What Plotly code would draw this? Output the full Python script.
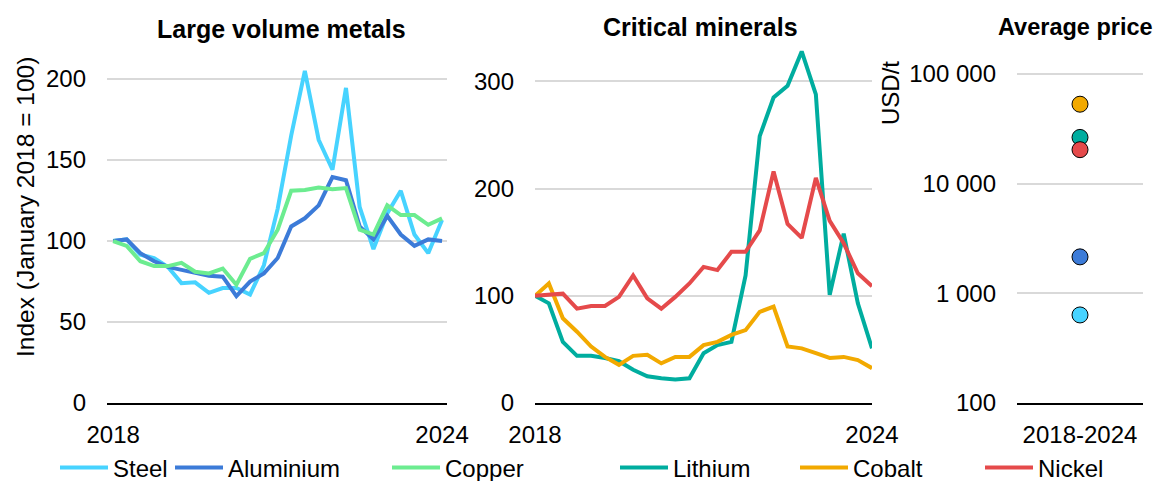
"""
Price indices of large volume metals and critical minerals, 2018-2024.
"""

import pandas as pd
import plotly.graph_objects as go
from plotly.subplots import make_subplots

quarters = pd.date_range("2018-01-01", "2024-01-01", freq="QS")

steel = [100, 101, 91.5, 89.5, 84, 74, 74.5, 68, 71, 71, 67, 85, 120, 165, 205,
         162.5, 144, 194.5, 121, 95, 117, 131, 104, 92.5, 113]
aluminium = [100, 101, 92.5, 87.5, 84, 82, 80, 78.5, 78, 66, 75, 80, 89.5, 109, 114,
             122, 139.5, 137.5, 109, 101, 115.5, 104, 97, 101, 100]
copper = [100, 97, 87.5, 84.5, 84.5, 86.5, 81, 80, 83, 73, 89, 92.5, 107, 131, 131.5,
          133, 132, 132.7, 107, 104, 122, 116, 116, 110, 114]

lithium = [100, 93, 57, 44, 44, 42, 39, 31, 25, 23, 22, 23, 46.5, 54, 57,
           119, 249, 285, 296, 328, 288, 101, 158, 93, 51]
cobalt = [100, 111.5, 79, 66.5, 52.7, 43, 35.6, 44, 45, 37, 43, 43, 54, 57, 63.5,
          68, 85, 90, 52.7, 51, 46.5, 42, 43, 40, 32.5]
nickel = [100, 100.7, 102, 88, 90.5, 90.5, 99, 119, 97.6, 88, 99, 111.5, 127, 124, 141,
          141, 161, 216, 167, 154, 210, 170, 149, 121, 109]

avg_names = ["Cobalt", "Lithium", "Nickel", "Aluminium", "Steel"]
avg_prices = [53000, 26400, 20400, 2150, 635]
avg_period = "2018-2024"

colors = {
    "Steel": "#47d3ff",
    "Aluminium": "#3c7bd8",
    "Copper": "#6cec90",
    "Lithium": "#00ad9f",
    "Cobalt": "#f2a900",
    "Nickel": "#e54a4b",
}

FONT = "Liberation Sans, Arial, sans-serif"
FS = 24
# page body has an 8px margin; keep the figure small enough to avoid scrollbars
OFF = 8
W, H = 1161 - 2 * OFF, 489 - 2 * OFF
TOP = 45 - OFF
BOTTOM = H - (403 - OFF)
PH = H - TOP - BOTTOM


def px_x(sx):
    # screen column -> paper x
    return (sx - OFF) / W


def px_y(sy):
    # screen row -> paper y
    return (H - BOTTOM - (sy - OFF)) / PH


fig = make_subplots(rows=1, cols=3)

panel1 = [("Steel", steel), ("Aluminium", aluminium), ("Copper", copper)]
panel2 = [("Lithium", lithium), ("Cobalt", cobalt), ("Nickel", nickel)]

# screen column where each legend label starts
legend_text_x = {"Steel": 115, "Aluminium": 230, "Copper": 447,
                 "Lithium": 675, "Cobalt": 855, "Nickel": 1040}
legend_ids = {}
for i, name in enumerate(colors):
    legend_ids[name] = "legend" if i == 0 else f"legend{i + 1}"

for col, panel in ((1, panel1), (2, panel2)):
    for name, vals in panel:
        fig.add_trace(go.Scatter(
            x=quarters, y=vals, name=name, mode="lines",
            line=dict(color=colors[name], width=4),
            legend=legend_ids[name],
        ), row=1, col=col)

fig.add_trace(go.Scatter(
    x=[avg_period] * len(avg_prices), y=avg_prices, mode="markers",
    marker=dict(size=16, color=[colors[n] for n in avg_names],
                line=dict(color="black", width=1)),
    showlegend=False,
), row=1, col=3)

axis_font = dict(family=FONT, size=FS, color="black")

fig.update_xaxes(showgrid=False, zeroline=False, showline=True, linecolor="black",
                 linewidth=2, ticks="", tickfont=axis_font, ticklabelstandoff=9,
                 automargin=False)
fig.update_yaxes(showgrid=True, gridcolor="#d9d9d9", gridwidth=2, zeroline=False,
                 showline=False, ticks="", tickfont=axis_font, ticklabelstandoff=20,
                 automargin=False)

fig.update_xaxes(domain=[px_x(107), px_x(447)],
                 range=["2017-11-21", "2024-02-03"],
                 tickvals=["2018-01-01", "2024-01-01"], ticktext=["2018", "2024"],
                 row=1, col=1)
fig.update_xaxes(domain=[px_x(535), px_x(872)],
                 range=["2018-01-01", "2024-01-01"],
                 tickvals=["2018-01-01", "2024-01-01"], ticktext=["2018", "2024"],
                 row=1, col=2)
fig.update_xaxes(domain=[px_x(1017), px_x(1143)], type="category", range=[-1, 1],
                 row=1, col=3)

fig.update_yaxes(range=[0, 221], tickvals=[0, 50, 100, 150, 200], row=1, col=1)
fig.update_yaxes(range=[0, 334], tickvals=[0, 100, 200, 300], row=1, col=2)
fig.update_yaxes(type="log", range=[2, 5.264],
                 tickvals=[100, 1000, 10000, 100000],
                 ticktext=["100", "1 000", "10 000", "100 000"], row=1, col=3)

annotations = [
    dict(text="<b>Large volume metals</b>", x=px_x(281), y=px_y(29), size=25),
    dict(text="<b>Critical minerals</b>", x=px_x(701), y=px_y(27), size=25),
    dict(text="<b>Average price</b>", x=px_x(1075), y=px_y(27), size=23.5),
    dict(text="Index (January 2018 = 100)", x=px_x(25), y=px_y(207), size=24.5,
         textangle=-90),
    dict(text="USD/t", x=px_x(891), y=px_y(93), size=24, textangle=-90),
]
for a in annotations:
    size = a.pop("size")
    fig.add_annotation(xref="paper", yref="paper", showarrow=False,
                       xanchor="center", yanchor="middle",
                       font=dict(family=FONT, size=size, color="black"), **a)

legends = {}
for name, lid in legend_ids.items():
    legends[lid] = dict(
        orientation="h", x=px_x(legend_text_x[name] - 60), xanchor="left",
        y=px_y(468), yanchor="middle",
        font=dict(family=FONT, size=FS, color="black"),
        bgcolor="rgba(0,0,0,0)", itemwidth=48,
    )

fig.update_layout(
    width=W, height=H,
    margin=dict(l=0, r=0, t=TOP, b=BOTTOM, autoexpand=False),
    plot_bgcolor="white", paper_bgcolor="white",
    font=dict(family=FONT, size=FS, color="black"),
    **legends,
)

fig.write_html("out.html")
